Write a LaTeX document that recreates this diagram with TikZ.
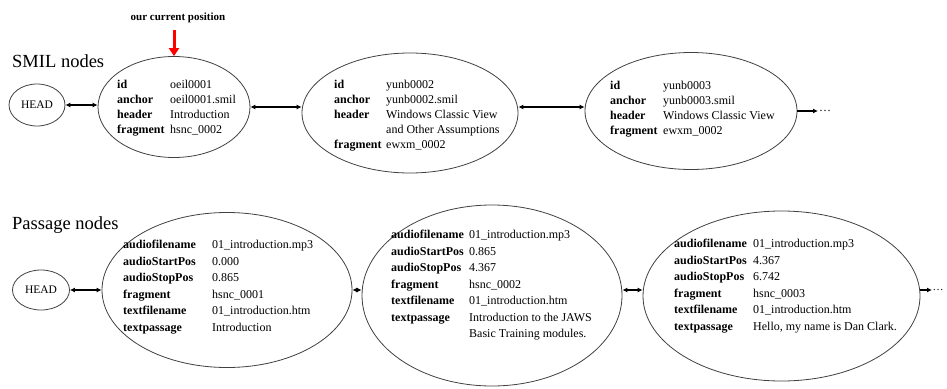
\documentclass[tikz,border=0pt]{standalone}
\usepackage{fontspec}
\setmainfont{Liberation Serif}
\usetikzlibrary{shapes.geometric,arrows.meta}

\newcommand{\fld}[1]{\textbf{#1}}

\begin{document}
\begin{tikzpicture}[x=1pt, y=-1pt,
    rec/.style={ellipse, draw=black!75, line width=0.8pt, inner sep=0pt},
    headrec/.style={rec, font=\fontsize{11.5}{13}\selectfont},
    fields/.style={anchor=north west, inner sep=0pt, font=\fontsize{12}{15}\selectfont},
    pfields/.style={fields, font=\fontsize{12}{16.5}\selectfont},
    title/.style={anchor=west, inner sep=0pt, font=\fontsize{18.5}{20}\selectfont},
    link/.style={{Latex[length=5pt,width=5pt]}-{Latex[length=5pt,width=5pt]}, line width=1.4pt},
    tail/.style={-{Latex[length=5pt,width=5pt]}, line width=1.4pt}]
  \useasboundingbox (0,0) rectangle (947,388);

  % SMIL nodes
  \node[title] (smiltitle) at (12,61) {SMIL nodes};
  \node[headrec, minimum width=56, minimum height=42] (s0) at (37,105) {HEAD};
  \node[rec, minimum width=152, minimum height=101] (s1) at (174,107) {};
  \node[rec, minimum width=216, minimum height=120] (s2) at (410,113) {};
  \node[rec, minimum width=212, minimum height=117] (s3) at (691,111) {};
  \node[fields] (s1f) at (117,78) {\begin{tabular}{@{}p{53pt}@{}l@{}}
      \fld{id} & oeil0001\\
      \fld{anchor} & oeil0001.smil\\
      \fld{header} & Introduction\\
      \fld{fragment} & hsnc\_0002
    \end{tabular}};
  \node[fields] (s2f) at (334,78) {\begin{tabular}{@{}p{52pt}@{}l@{}}
      \fld{id} & yunb0002\\
      \fld{anchor} & yunb0002.smil\\
      \fld{header} & Windows Classic View\\
       & and Other Assumptions\\
      \fld{fragment} & ewxm\_0002
    \end{tabular}};
  \node[fields] (s3f) at (610,79) {\begin{tabular}{@{}p{53pt}@{}l@{}}
      \fld{id} & yunb0003\\
      \fld{anchor} & yunb0003.smil\\
      \fld{header} & Windows Classic View\\
      \fld{fragment} & ewxm\_0002
    \end{tabular}};
  \node[anchor=west, inner sep=1pt, font=\fontsize{12}{15}\selectfont] (sdots) at (818,111) {\dots};

  \node[inner sep=0pt, font=\bfseries\fontsize{11}{12}\selectfont] (pos) at (178,18) {our current position};
  \draw[red, line width=3pt, -{Triangle[length=8pt,width=10pt]}]
      ([yshift=-7pt]pos.south -| s1.north) -- (s1.north);

  \draw[link] (s0.east) -- (s0.east -| s1.west);
  \draw[link] (s1.east) -- (s1.east -| s2.west);
  \draw[link] (s2.east |- s1.east) -- (s3.west |- s1.east);
  \draw[tail] (s3.east) -- (sdots.west);

  % Passage nodes
  \node[title] (ptitle) at (12,225) {Passage nodes};
  \node[headrec, minimum width=57, minimum height=40] (p0) at (41,290) {HEAD};
  \node[rec, minimum width=250, minimum height=155] (p1) at (227,290) {};
  \node[rec, minimum width=260, minimum height=181] (p2) at (492,295.5) {};
  \node[rec, minimum width=277, minimum height=170] (p3) at (781.5,296) {};
  \node[pfields] (p1f) at (123,237) {\begin{tabular}{@{}p{89pt}@{}l@{}}
      \fld{audiofilename} & 01\_introduction.mp3\\
      \fld{audioStartPos} & 0.000\\
      \fld{audioStopPos} & 0.865\\
      \fld{fragment} & hsnc\_0001\\
      \fld{textfilename} & 01\_introduction.htm\\
      \fld{textpassage} & Introduction
    \end{tabular}};
  \node[pfields] (p2f) at (391,227) {\begin{tabular}{@{}p{78pt}@{}l@{}}
      \fld{audiofilename} & 01\_introduction.mp3\\
      \fld{audioStartPos} & 0.865\\
      \fld{audioStopPos} & 4.367\\
      \fld{fragment} & hsnc\_0002\\
      \fld{textfilename} & 01\_introduction.htm\\
      \fld{textpassage} & Introduction to the JAWS\\
       & Basic Training modules.
    \end{tabular}};
  \node[pfields] (p3f) at (674,236) {\begin{tabular}{@{}p{79pt}@{}l@{}}
      \fld{audiofilename} & 01\_introduction.mp3\\
      \fld{audioStartPos} & 4.367\\
      \fld{audioStopPos} & 6.742\\
      \fld{fragment} & hsnc\_0003\\
      \fld{textfilename} & 01\_introduction.htm\\
      \fld{textpassage} & Hello, my name is Dan Clark.
    \end{tabular}};
  \node[anchor=west, inner sep=0.5pt, font=\fontsize{11}{13}\selectfont] (pdots) at (932,290) {\dots};

  \draw[link] (p0.east) -- (p0.east -| p1.west);
  \draw[link] (p1.east) -- (p1.east -| p2.west);
  \draw[link] (p2.east |- p1.east) -- (p3.west |- p1.east);
  \draw[tail] (p3.east |- p1.east) -- (pdots.west);
\end{tikzpicture}
\end{document}
